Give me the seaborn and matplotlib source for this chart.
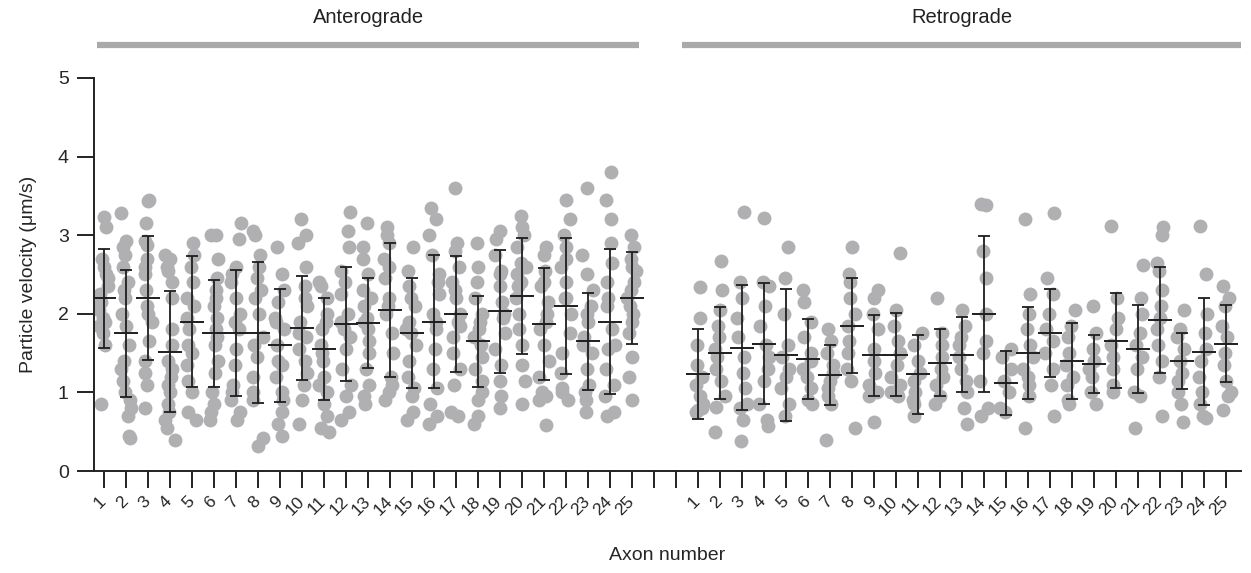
import numpy as np
import pandas as pd
import seaborn as sns
import matplotlib.pyplot as plt
import matplotlib.transforms as mtransforms

# Particle velocities (um/s) per axon
ANTERO = [
    [3.23, 3.1, 2.7, 2.6, 2.45, 2.35, 2.25, 2.15, 2.05, 1.95, 1.85, 1.75, 1.6, 0.85, 2.5, 1.9],
    [3.28, 2.92, 2.85, 2.75, 2.6, 2.4, 2.2, 2.0, 1.85, 1.6, 1.4, 1.15, 1.0, 0.9, 0.8, 0.7, 0.42, 0.45, 2.3, 1.3],
    [3.45, 3.43, 3.15, 2.92, 2.88, 2.7, 2.5, 2.3, 2.1, 1.9, 1.65, 1.4, 1.25, 1.1, 0.8, 2.6, 2.0],
    [2.75, 2.7, 2.55, 2.4, 2.2, 1.8, 1.6, 1.4, 1.2, 1.1, 1.0, 0.85, 0.75, 0.65, 0.55, 0.4, 2.6, 1.3],
    [2.9, 2.75, 2.6, 2.4, 2.2, 1.95, 1.8, 1.6, 1.35, 1.15, 1.0, 0.75, 0.65, 2.1, 1.5],
    [3.0, 3.0, 2.7, 2.45, 2.3, 2.1, 1.95, 1.8, 1.6, 1.4, 1.25, 1.0, 0.85, 0.75, 0.65, 2.2, 1.7],
    [3.15, 2.95, 2.6, 2.4, 2.2, 2.0, 1.8, 1.55, 1.35, 1.1, 1.0, 0.9, 0.75, 0.65, 2.5, 1.9],
    [3.05, 3.0, 2.75, 2.6, 2.45, 2.2, 2.0, 1.7, 1.45, 1.2, 1.0, 0.9, 0.42, 0.32, 2.3, 1.6],
    [2.85, 2.5, 2.3, 2.15, 1.95, 1.8, 1.6, 1.35, 1.2, 1.0, 0.9, 0.75, 0.6, 0.45, 1.9, 1.4],
    [3.2, 3.0, 2.9, 2.6, 2.35, 2.1, 1.9, 1.75, 1.55, 1.4, 1.25, 1.1, 0.9, 0.6, 2.2, 1.7],
    [2.4, 2.35, 2.2, 2.0, 1.8, 1.6, 1.4, 1.2, 1.1, 1.0, 0.85, 0.7, 0.55, 0.5, 1.9, 1.5],
    [3.3, 3.05, 2.85, 2.55, 2.25, 2.0, 1.8, 1.55, 1.3, 1.1, 0.95, 0.75, 0.65, 2.4, 1.9, 1.7],
    [3.15, 2.85, 2.7, 2.5, 2.3, 2.1, 1.95, 1.8, 1.65, 1.5, 1.3, 1.1, 0.95, 0.85, 2.2, 1.9],
    [3.1, 3.0, 2.9, 2.7, 2.45, 2.2, 2.0, 1.75, 1.5, 1.2, 1.1, 1.0, 0.9, 2.6, 2.1],
    [2.85, 2.55, 2.35, 2.1, 1.9, 1.75, 1.6, 1.4, 1.2, 1.05, 0.95, 0.75, 0.65, 2.2, 1.8],
    [3.35, 3.2, 3.0, 2.75, 2.5, 2.25, 2.0, 1.8, 1.55, 1.3, 1.05, 0.85, 0.7, 0.6, 2.4, 1.9],
    [3.6, 2.9, 2.8, 2.6, 2.4, 2.2, 2.0, 1.85, 1.7, 1.5, 1.3, 1.1, 0.75, 0.7, 2.3, 1.9],
    [2.9, 2.6, 2.4, 2.2, 2.0, 1.8, 1.6, 1.45, 1.3, 1.15, 1.0, 0.9, 0.7, 0.6, 1.9, 1.7],
    [3.05, 2.95, 2.75, 2.55, 2.35, 2.15, 1.95, 1.75, 1.55, 1.35, 1.15, 0.95, 0.8, 2.5, 2.0],
    [3.25, 3.1, 3.0, 2.85, 2.65, 2.5, 2.35, 2.2, 2.0, 1.8, 1.6, 1.35, 1.15, 0.85, 2.6, 2.4],
    [2.85, 2.75, 2.55, 2.35, 2.15, 2.0, 1.8, 1.6, 1.4, 1.2, 1.0, 0.95, 0.9, 0.58, 2.4, 1.9],
    [3.45, 3.2, 3.0, 2.85, 2.6, 2.4, 2.2, 2.0, 1.75, 1.5, 1.25, 1.05, 1.0, 0.9, 2.7, 2.2],
    [3.6, 2.75, 2.5, 2.3, 2.1, 1.9, 1.7, 1.5, 1.3, 1.1, 1.0, 0.9, 0.75, 2.0, 1.6],
    [3.8, 3.45, 3.2, 2.9, 2.65, 2.4, 2.1, 1.8, 1.55, 1.3, 1.1, 0.95, 0.75, 0.7, 2.2, 1.6],
    [3.0, 2.85, 2.7, 2.55, 2.4, 2.3, 2.2, 2.1, 1.9, 1.75, 1.45, 1.2, 0.9, 2.6, 2.0],
]
RETRO = [
    [2.34, 1.95, 1.6, 1.35, 1.2, 1.1, 0.95, 0.85, 0.8, 0.78, 0.75],
    [2.67, 2.3, 2.05, 1.85, 1.7, 1.55, 1.45, 1.3, 1.15, 0.95, 0.82, 0.5],
    [3.3, 2.4, 2.2, 1.95, 1.7, 1.45, 1.25, 1.05, 0.85, 0.8, 0.65, 0.38],
    [3.22, 2.4, 2.35, 2.1, 1.85, 1.6, 1.45, 1.3, 1.15, 0.85, 0.65, 0.57],
    [2.85, 2.45, 2.0, 1.6, 1.45, 1.3, 1.2, 1.05, 0.85, 0.7],
    [2.3, 2.15, 1.9, 1.7, 1.5, 1.4, 1.3, 1.2, 1.05, 0.9, 0.85],
    [1.8, 1.65, 1.5, 1.35, 1.25, 1.15, 1.05, 0.95, 0.85, 0.4],
    [2.85, 2.5, 2.4, 2.2, 2.0, 1.85, 1.65, 1.5, 1.3, 1.15, 0.55],
    [2.3, 2.2, 2.0, 1.8, 1.55, 1.4, 1.25, 1.1, 1.0, 0.95, 0.62],
    [2.77, 2.05, 1.85, 1.65, 1.5, 1.35, 1.2, 1.1, 1.0, 0.95],
    [1.75, 1.6, 1.4, 1.25, 1.15, 1.0, 0.9, 0.85, 0.7],
    [2.2, 1.75, 1.6, 1.45, 1.3, 1.2, 1.1, 0.95, 0.85],
    [2.05, 1.85, 1.7, 1.6, 1.45, 1.3, 1.15, 1.0, 0.8, 0.6],
    [3.38, 3.4, 2.8, 2.45, 2.0, 1.65, 1.5, 1.15, 0.8, 0.7],
    [1.55, 1.45, 1.3, 1.15, 1.0, 0.8, 0.75],
    [3.2, 2.25, 2.0, 1.8, 1.6, 1.45, 1.3, 1.2, 1.1, 0.95, 0.55],
    [3.28, 2.45, 2.25, 2.0, 1.8, 1.65, 1.5, 1.3, 1.1, 0.7],
    [2.05, 1.85, 1.7, 1.5, 1.35, 1.2, 1.1, 0.9, 0.85],
    [2.1, 1.75, 1.55, 1.4, 1.3, 1.2, 1.0, 0.85],
    [3.12, 2.2, 1.95, 1.8, 1.6, 1.45, 1.3, 1.1, 1.0],
    [2.62, 2.2, 2.0, 1.75, 1.6, 1.45, 1.3, 1.0, 0.95, 0.55],
    [3.1, 3.0, 2.65, 2.55, 2.3, 2.1, 1.95, 1.8, 1.6, 1.4, 1.2, 0.7],
    [2.05, 1.8, 1.7, 1.55, 1.4, 1.25, 1.15, 1.0, 0.85, 0.62],
    [3.12, 2.5, 2.0, 1.75, 1.55, 1.4, 1.2, 1.0, 0.85, 0.7, 0.67],
    [2.35, 2.2, 2.1, 1.85, 1.7, 1.5, 1.35, 1.15, 1.0, 0.95, 0.78],
]

# mean and SD shown by the error bars
ANTERO_MEAN = [2.2, 1.75, 2.2, 1.52, 1.9, 1.75, 1.76, 1.76, 1.6, 1.82, 1.55, 1.87, 1.88,
               2.05, 1.75, 1.9, 2.0, 1.65, 2.03, 2.23, 1.87, 2.1, 1.65, 1.9, 2.2]
ANTERO_SD = [0.63, 0.81, 0.79, 0.77, 0.83, 0.68, 0.8, 0.9, 0.72, 0.66, 0.65, 0.73, 0.57,
             0.85, 0.7, 0.85, 0.74, 0.58, 0.78, 0.74, 0.71, 0.87, 0.62, 0.92, 0.59]
RETRO_MEAN = [1.23, 1.5, 1.57, 1.62, 1.48, 1.42, 1.22, 1.85, 1.47, 1.48, 1.23, 1.38, 1.48,
              2.0, 1.12, 1.5, 1.75, 1.4, 1.36, 1.66, 1.55, 1.92, 1.4, 1.52, 1.62]
RETRO_SD = [0.57, 0.58, 0.8, 0.77, 0.84, 0.51, 0.38, 0.6, 0.51, 0.53, 0.5, 0.43, 0.48,
            0.99, 0.41, 0.58, 0.56, 0.48, 0.37, 0.61, 0.56, 0.67, 0.36, 0.68, 0.49]

AXON_LABELS = [str(i) for i in range(1, 26)]

# build long table, two empty slots separate the groups
ant_keys = ["A" + s for s in AXON_LABELS]
ret_keys = ["R" + s for s in AXON_LABELS]
order = ant_keys + ["gap1", "gap2"] + ret_keys
rows = []
for key, vals in zip(ant_keys + ret_keys, ANTERO + RETRO):
    for v in vals:
        rows.append((key, v))
df = pd.DataFrame(rows, columns=["axon", "velocity"])

sns.set_style("ticks")
plt.rcParams["font.family"] = ["Liberation Sans", "DejaVu Sans"]

fig = plt.figure(figsize=(12.51, 5.73), dpi=100)
ax = fig.add_axes([0.075, 0.178, 0.917, 0.686])

np.random.seed(3)
sns.stripplot(data=df, x="axon", y="velocity", order=order, jitter=0.24,
              color="#b0b0b2", size=10, linewidth=0, ax=ax, zorder=1)

pos = [order.index(k) for k in ant_keys + ret_keys]
means = ANTERO_MEAN + RETRO_MEAN
sds = ANTERO_SD + RETRO_SD
ax.errorbar(pos, means, yerr=sds, fmt="none", ecolor="#1e1e1e",
            elinewidth=1.3, capsize=4, capthick=1.3, zorder=3)
ax.plot(pos, means, linestyle="none", marker="_", markersize=17,
        markeredgewidth=1.4, color="#1e1e1e", zorder=4)

ax.set_xlim(-0.45, 51.7)
ax.set_ylim(0, 5)
ax.set_yticks([0, 1, 2, 3, 4, 5])
ax.set_xticks(range(len(order)))
ax.set_xticklabels(AXON_LABELS + ["", ""] + AXON_LABELS, rotation=45,
                   ha="right", va="center", rotation_mode="anchor", fontsize=12.5)
ax.tick_params(axis="y", labelsize=14, length=12, width=1.4, color="#222222", pad=6)
ax.tick_params(axis="x", length=12, width=1.4, color="#222222", pad=8)
for s in ["left", "bottom"]:
    ax.spines[s].set_linewidth(1.4)
    ax.spines[s].set_color("#222222")
sns.despine(ax=ax)

ax.set_ylabel("Particle velocity (\u03bcm/s)", fontsize=14, labelpad=15)
ax.set_xlabel("Axon number", fontsize=14, labelpad=21)

# group headers
trans = mtransforms.blended_transform_factory(ax.transData, ax.transAxes)
for x0, x1, name in [(-0.32, 24.35, "Anterograde"), (26.3, 51.7, "Retrograde")]:
    ax.plot([x0, x1], [1.084, 1.084], color="#a9a9a9", linewidth=4.5,
            solid_capstyle="butt", transform=trans, clip_on=False)
    ax.text((x0 + x1) / 2, 1.155, name, transform=trans, ha="center",
            va="center", fontsize=14.5, color="#222222")

fig.savefig("out.png", dpi=100)
